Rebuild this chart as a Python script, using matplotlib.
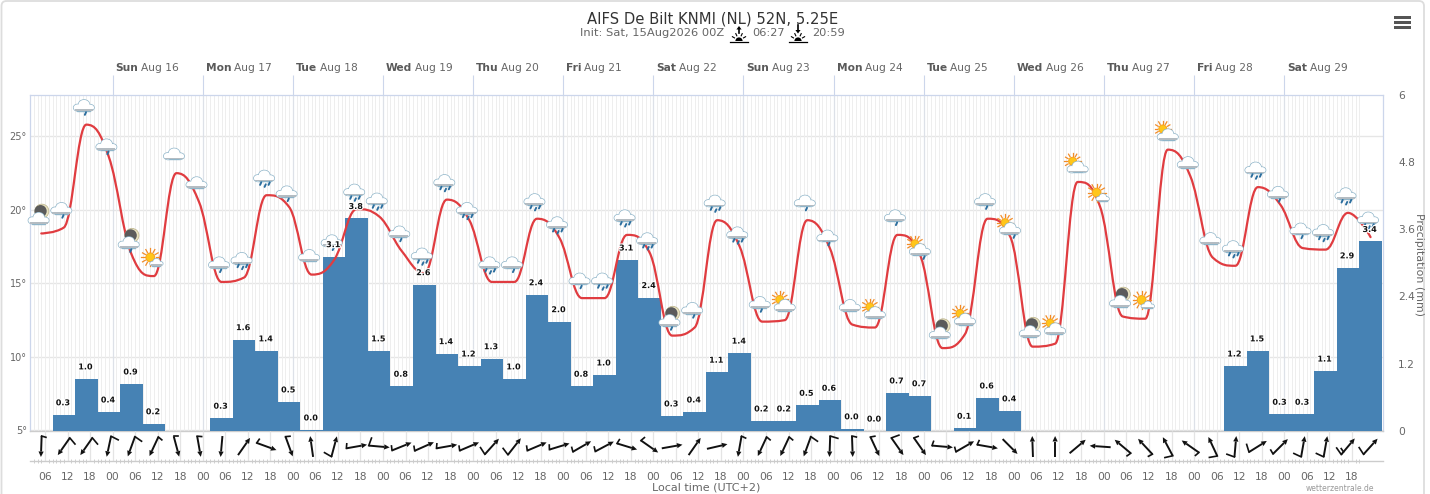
import numpy as np
import matplotlib
matplotlib.use("Agg")
import matplotlib.pyplot as plt
from matplotlib.path import Path
from matplotlib.patches import PathPatch, Ellipse, Circle, Rectangle, Polygon, FancyBboxPatch, Wedge
from matplotlib.lines import Line2D
from matplotlib.transforms import Affine2D
import matplotlib.patheffects as pe

TITLE = "AIFS De Bilt KNMI (NL) 52N, 5.25E"
SUB_INIT = "Init: Sat, 15Aug2026 00Z"
SUNRISE = "06:27"
SUNSET = "20:59"
DAY_NAMES = ["Sun", "Mon", "Tue", "Wed", "Thu", "Fri", "Sat", "Sun", "Mon", "Tue", "Wed", "Thu", "Fri", "Sat"]
DAY_DATES = ["Aug 16", "Aug 17", "Aug 18", "Aug 19", "Aug 20", "Aug 21", "Aug 22", "Aug 23",
             "Aug 24", "Aug 25", "Aug 26", "Aug 27", "Aug 28", "Aug 29"]

# hours after Sat 15 Aug 00:00 local
TEMP_HOURS = [5 + 6 * i for i in range(60)]
TEMP = [18.4, 18.8, 25.8, 23.6, 17.0, 15.5, 22.5, 20.55, 15.1, 15.4,
        21.0, 20.2, 15.6, 16.6, 20.05, 19.55, 17.2, 15.7, 20.7, 19.3,
        15.1, 15.1, 19.4, 18.1, 14.0, 14.0, 18.3, 17.1, 11.45, 12.0,
        19.3, 17.5, 12.4, 12.5, 19.3, 17.4, 12.2, 12.0, 18.3, 16.95,
        10.6, 11.55, 19.4, 18.2, 10.7, 10.9, 21.9, 20.2, 12.75, 12.6,
        24.1, 22.3, 16.75, 16.2, 21.55, 20.35, 17.4, 17.3, 19.8, 18.15]
ICONS = ["moon", "r1", "r1", "r1", "moonr", "sun", "c", "c", "r1", "r2",
         "r2", "r1", "c", "r1", "r2", "r2", "r1", "r2", "r2", "r2",
         "r2", "r1", "r2", "r2", "r1", "r2", "r2", "r2", "moonr", "r1",
         "r2", "r2", "r1", "part", "r1", "r1", "c", "part", "r1", "partr",
         "moon", "part", "r1", "partr", "moon", "part", "part", "sun", "moon", "sun",
         "part", "c", "c", "r2", "r2", "r1", "r1", "r2", "r2", "r2"]

PRECIP_HOURS = [11 + 6 * i for i in range(59)]
PRECIP = [0.29, 0.93, 0.34, 0.84, 0.13, None, None,
          0.23, 1.63, 1.43, 0.52, 0.02, 3.11, 3.79, 1.43, 0.80, 2.61, 1.38, 1.16, 1.29, 0.93,
          2.43, 1.95, 0.80, 1.00, 3.05, 2.38, 0.27, 0.34, 1.05, 1.39, 0.18, 0.18, 0.46, 0.55,
          0.04, 0.00, 0.68, 0.63, None, 0.05, 0.59, 0.36,
          None, None, None, None, None, None, None, None, None,
          1.16, 1.43, 0.30, 0.30, 1.07, 2.91, 3.38]
PRECIP_LABELS = ["0.3", "1.0", "0.4", "0.9", "0.2", "", "",
                 "0.3", "1.6", "1.4", "0.5", "0.0", "3.1", "3.8", "1.5", "0.8", "2.6", "1.4", "1.2", "1.3", "1.0",
                 "2.4", "2.0", "0.8", "1.0", "3.1", "2.4", "0.3", "0.4", "1.1", "1.4", "0.2", "0.2", "0.5", "0.6",
                 "0.0", "0.0", "0.7", "0.7", "", "0.1", "0.6", "0.4",
                 "", "", "", "", "", "", "", "", "",
                 "1.2", "1.5", "0.3", "0.3", "1.1", "2.9", "3.4"]

# direction the arrow points to (compass degrees), barb class at the tail
WIND_DIR = [182, 215, 215, 192, 200, 205, 165, 170, 185, 35,
            110, 160, 352, 15, 80, 95, 68, 66, 80, 67,
            42, 38, 67, 73, 60, 62, 107, 125, 80, 35,
            77, 190, 205, 205, 200, 182, 178, 155, 145, 145,
            95, 60, 100, 135, 358, 0, 50, 274, 310, 317,
            332, 305, 335, 5, 58, 45, 10, 10, 40, 42]
WIND_BARB = [1, 2, 2, 2, 2, 1, 1, 1, 0, 0,
             1, 1, 0, 2, 1, 2, 1, 1, 1, 1,
             2, 2, 1, 1, 1, 1, 1, 1, 0, 0,
             0, 1, 1, 1, 2, 2, 1, 1, 2, 1,
             1, 1, 1, 0, 0, 0, 0, 0, 1, 1,
             2, 1, 2, 2, 2, 1, 2, 2, 3, 2]

W, H = 1430, 494
FONT = "DejaVu Sans"
plt.rcParams["font.family"] = FONT
GRAY = "#666666"
AXC = "#ccd6eb"
# weather symbols on falling stretches sit closer to the line (pixels)
ICON_SHIFT = {3: 7, 4: 3.7, 11: 4, 15: 1.6, 19: 7.3, 23: 4, 27: 5.3, 31: 5.3, 35: 7,
              39: 9.7, 43: 7, 47: 4.3, 51: 5.6, 55: 6.7}

fig = plt.figure(figsize=(W / 100, H / 100), dpi=100, facecolor="white")


def rect(l, t, r, b):
    return [l / W, 1 - b / H, (r - l) / W, (b - t) / H]


L, R, T, B = 29.5, 1383.0, 94.5, 431.0
XLIM = ((L - 22.5) / 3.755, (R - 22.5) / 3.755)
YLIM = (5 - 0.04, 5 + (431 - 94.5) / 14.7 - 0.04)

# ------------- base axes: grid
ax = fig.add_axes(rect(L, T, R, B), zorder=1)
ax.set_xlim(*XLIM)
ax.set_ylim(*YLIM)
ax.vlines(np.arange(3, 357), YLIM[0], YLIM[1], color="#eeeeee", lw=0.7, zorder=1)
ax.vlines(np.arange(24, 350, 24), YLIM[0], YLIM[1], color="#dde1e8", lw=0.9, zorder=1.1)
ax.set_yticks([5, 10, 15, 20, 25])
ax.set_yticklabels(["5°", "10°", "15°", "20°", "25°"], fontsize=7, color=GRAY)
ax.yaxis.grid(True, color="#e6e6e6", lw=1)
ax.set_axisbelow(True)
ax.tick_params(axis="y", length=0, pad=2)
ax.xaxis.tick_top()
ax.set_xticks(np.arange(24, 350, 24))
ax.set_xticklabels([])
ax.tick_params(axis="x", length=14.2, width=0.8, color=AXC, direction="out")
for s in ["left", "top", "right"]:
    ax.spines[s].set_color(AXC)
    ax.spines[s].set_linewidth(0.9)
ax.spines["bottom"].set_color("#cccccc")
ax.spines["bottom"].set_linewidth(1)

# ------------- precipitation axes
ax2 = ax.twinx()
ax2.set_zorder(2)
ax2.patch.set_visible(False)
ax2.set_ylim(0, 6)
ax2.set_yticks([0, 1.2, 2.4, 3.6, 4.8, 6])
ax2.set_yticklabels(["0", "1.2", "2.4", "3.6", "4.8", "6"], fontsize=7.7, color=GRAY)
ax2.tick_params(axis="y", length=0, pad=11)
for s in ax2.spines.values():
    s.set_visible(False)
pvals = np.array([np.nan if v is None else v for v in PRECIP], dtype=float)
ax2.bar(PRECIP_HOURS, pvals, width=6.0, color="#4682b4", lw=0, zorder=2)

# ------------- temperature layer
ax3 = fig.add_axes(rect(L, T, R, B), zorder=3, sharex=ax, sharey=ax)
ax3.patch.set_visible(False)
ax3.axis("off")


def spline_path(xs, ys):
    """Bezier path through the points, with flattened extremes."""
    n = len(xs)
    verts = [(xs[0], ys[0])]
    codes = [Path.MOVETO]
    lc, rc = [None] * n, [None] * n
    rc[0] = (xs[0], ys[0])
    lc[-1] = (xs[-1], ys[-1])
    for i in range(1, n - 1):
        x, y = xs[i], ys[i]
        lx = (1.5 * x + xs[i - 1]) / 2.5
        ly = (1.5 * y + ys[i - 1]) / 2.5
        rx = (1.5 * x + xs[i + 1]) / 2.5
        ry = (1.5 * y + ys[i + 1]) / 2.5
        c = (ry - ly) * (rx - x) / (rx - lx) + y - ry
        ly += c
        ry += c
        if ly > ys[i - 1] and ly > y:
            ly = max(ys[i - 1], y)
            ry = 2 * y - ly
        elif ly < ys[i - 1] and ly < y:
            ly = min(ys[i - 1], y)
            ry = 2 * y - ly
        if ry > ys[i + 1] and ry > y:
            ry = max(ys[i + 1], y)
            ly = 2 * y - ry
        elif ry < ys[i + 1] and ry < y:
            ry = min(ys[i + 1], y)
            ly = 2 * y - ry
        lc[i] = (lx, ly)
        rc[i] = (rx, ry)
    for i in range(1, n):
        verts += [rc[i - 1], lc[i], (xs[i], ys[i])]
        codes += [Path.CURVE4] * 3
    return Path(verts, codes)


ax3.add_patch(PathPatch(spline_path(TEMP_HOURS, TEMP), fc="none", ec="#e03c40", lw=1.6,
                        capstyle="round", joinstyle="round", zorder=3))


def local(X, Y):
    # local pixel coordinates, y pointing down, at display position X, Y
    return Affine2D().scale(1, -1).translate(X, Y)


def add(artist, tr, z):
    artist.set_transform(tr)
    artist.set_clip_on(False)
    artist.set_zorder(z)
    ax3.add_artist(artist)


def cloud(X, Y, s=1.0, z=4):
    tr = Affine2D().scale(s, -s).translate(X, Y)
    shapes = [((-6.2, 2.0), 8.0, 6.5), ((0.2, -1.0), 11.0, 9.5), ((6.4, 2.0), 7.6, 6.0)]
    for c, w, h in shapes:
        add(Ellipse(c, w, h, fc="#a8c6d6", ec="#8fb5c9", lw=1.0), tr, z)
    add(Rectangle((-6.5, 1), 13, 4.2, fc="#a8c6d6", ec="#8fb5c9", lw=1.0), tr, z)
    for c, w, h in shapes:
        add(Ellipse(c, w, h, fc="white", ec="none"), tr, z + 0.01)
    add(Rectangle((-6.5, 0.5), 13, 3.0, fc="white", ec="none"), tr, z + 0.01)
    add(Rectangle((-9, 3.4), 18, 1.7, fc="#b4bcc2", ec="none"), tr, z + 0.02)


def drops(X, Y, pts, z=4.1):
    tr = local(X, Y)
    for dx, dy in pts:
        add(Line2D([dx + 0.7, dx - 0.5], [dy - 1.4, dy + 1.2], color="#2c6e9e", lw=1.4,
                   solid_capstyle="round"), tr, z)


def sun(X, Y, r=4.4, ray=9.0, z=3.9):
    tr = local(X, Y)
    for a in np.arange(0, 360, 30):
        ca, sa = np.cos(np.radians(a)), np.sin(np.radians(a))
        add(Line2D([(r + 1.3) * ca, ray * ca], [(r + 1.3) * sa, ray * sa], color="#f28c28", lw=0.9), tr, z)
    add(Circle((0, 0), r, fc="#ffc61a", ec="#f7a21c", lw=0.7), tr, z + 0.01)


def moon(X, Y, z=3.9):
    tr = local(X, Y)
    add(Circle((0, 0), 7, fc="#e8e2c0", ec="#b9b188", lw=0.5), tr, z)
    add(Circle((-1.3, 0), 6.1, fc="#5b5b5b", ec="none"), tr, z + 0.01)


def draw_icon(h, t, kind, shift):
    X, Y = ax3.transData.transform((h, t))
    Y = Y - shift
    if kind in ("c", "r1", "r2"):
        cx, cy = X - 2.5, Y + 19
        cloud(cx, cy)
        if kind == "r1":
            drops(cx, cy, [(1.5, 8.0)])
        elif kind == "r2":
            drops(cx, cy, [(-3.5, 7.5), (1.0, 9.5), (5.0, 7.5)])
    elif kind in ("moon", "moonr"):
        cx, cy = X - 2.7, Y + 15
        moon(cx + 3.3, cy + 7.3)
        cloud(cx, cy)
        if kind == "moonr":
            drops(cx, cy, [(2.0, 8.0)])
    elif kind == "sun":
        sun(X - 3.6, Y + 18.7)
        cloud(X + 2.5, Y + 13.7, s=0.62)
    elif kind in ("part", "partr"):
        sun(X - 5, Y + 20.7, r=4.0, ray=8.2)
        cloud(X, Y + 14.7)
        if kind == "partr":
            drops(X, Y + 14.7, [(4.0, 8.0)])


for i, (h, t, k) in enumerate(zip(TEMP_HOURS, TEMP, ICONS)):
    draw_icon(h, t, k, ICON_SHIFT.get(i, 0))

# bar value labels
halo = [pe.withStroke(linewidth=1.6, foreground="white")]
for h, v, lab in zip(PRECIP_HOURS, pvals, PRECIP_LABELS):
    if lab:
        ax3.annotate(lab, xy=(h, v), xycoords=ax2.transData, xytext=(-0.7, 8.6), textcoords="offset points",
                     ha="center", va="center", fontsize=5.8, fontweight="bold", color="#111111",
                     path_effects=halo, zorder=6, annotation_clip=False)

# ------------- wind band
axw = fig.add_axes(rect(L, B, R, 461), zorder=1)
axw.set_xlim(*XLIM)
axw.set_ylim(0, 1)
axw.patch.set_visible(False)
ticks6 = np.arange(6, 355, 6)
axw.vlines(ticks6, 0, 1, color="#e4e4e4", lw=0.9)
axw.set_yticks([])
axw.set_xticks(ticks6)
axw.set_xticklabels(["%02d" % (h % 24) for h in ticks6], fontsize=7.7, color=GRAY)
axw.set_xticks(np.arange(3, 357), minor=True)
axw.tick_params(axis="x", which="major", length=0, pad=7.6)
axw.tick_params(axis="x", which="minor", length=2.5, width=0.6, color="#c8c8c8", direction="inout")
for s in ["left", "top", "right"]:
    axw.spines[s].set_visible(False)
axw.spines["bottom"].set_color("#cccccc")
axw.spines["bottom"].set_linewidth(1)

axo = fig.add_axes([0, 0, 1, 1], zorder=5)
axo.set_xlim(0, W)
axo.set_ylim(H, 0)
axo.patch.set_visible(False)
axo.axis("off")

WIND_Y = 446.5
for h, d, b in zip(TEMP_HOURS, WIND_DIR, WIND_BARB):
    xpix = ax.transData.transform((h, 10))[0]
    a = np.radians(d)
    ux, uy = np.sin(a), -np.cos(a)
    tail = (xpix - 10.5 * ux, WIND_Y - 10.5 * uy)
    head = (xpix + 10.5 * ux, WIND_Y + 10.5 * uy)
    neck = (head[0] - 5.5 * ux, head[1] - 5.5 * uy)
    axo.plot([tail[0], neck[0]], [tail[1], neck[1]], color="#111111", lw=1.4, solid_capstyle="butt")
    axo.add_patch(Polygon([head, (neck[0] - 2.6 * uy, neck[1] + 2.6 * ux),
                           (neck[0] + 2.6 * uy, neck[1] - 2.6 * ux)], fc="#111111", ec="none"))
    ba = np.radians(d - 75)
    bx, by = np.sin(ba), -np.cos(ba)
    if b == 1:
        axo.plot([tail[0], tail[0] + 4.5 * bx], [tail[1], tail[1] + 4.5 * by], color="#111111", lw=1.2)
    elif b == 2:
        axo.plot([tail[0], tail[0] + 8.0 * bx], [tail[1], tail[1] + 8.0 * by], color="#111111", lw=1.2)
    elif b == 3:
        axo.plot([tail[0], tail[0] + 8.0 * bx], [tail[1], tail[1] + 8.0 * by], color="#111111", lw=1.2)
        sx, sy = tail[0] + 3.5 * ux, tail[1] + 3.5 * uy
        axo.plot([sx, sx + 4.0 * bx], [sy, sy + 4.0 * by], color="#111111", lw=1.2)

# ------------- card, title, furniture (figure pixel coordinates)
axo.add_patch(FancyBboxPatch((1.5, 1.0), 1422.5, 600, boxstyle="round,pad=0,rounding_size=5",
                             fc="none", ec="#dddddd", lw=1.3, clip_on=True))

axo.text(712.5, 19, TITLE, ha="center", va="center", fontsize=10.6, color="#333333")
axo.text(580, 32.5, SUB_INIT, ha="left", va="center", fontsize=8.25, color=GRAY)
axo.text(752, 32.5, SUNRISE, ha="left", va="center", fontsize=8.2, color=GRAY)
axo.text(812, 32.5, SUNSET, ha="left", va="center", fontsize=8.2, color=GRAY)


def sun_mark(xc, up):
    axo.plot([xc - 9, xc + 9], [42.3, 42.3], color="black", lw=0.9)
    axo.add_patch(Wedge((xc, 41), 3.6, 180, 360, fc="black", ec="none"))
    for a in (-60, -25, 25, 60):
        ca, sa = np.sin(np.radians(a)), -np.cos(np.radians(a))
        axo.plot([xc + 5.2 * ca, xc + 7.6 * ca], [40.5 + 5.2 * sa, 40.5 + 7.6 * sa], color="black", lw=0.8)
    if up:
        axo.plot([xc, xc], [29, 33.5], color="black", lw=1.2)
        axo.add_patch(Polygon([(xc, 26), (xc - 2.6, 29.5), (xc + 2.6, 29.5)], fc="black", ec="none"))
    else:
        axo.plot([xc, xc], [25.5, 30], color="black", lw=1.2)
        axo.add_patch(Polygon([(xc, 33.5), (xc - 2.6, 30), (xc + 2.6, 30)], fc="black", ec="none"))


sun_mark(739, True)
sun_mark(798, False)

# day labels above the ticks
rend = fig.canvas.get_renderer()
for hour, dn, dd in zip(np.arange(24, 350, 24), DAY_NAMES, DAY_DATES):
    xp = ax.transData.transform((hour, 10))[0] + 3
    t1 = axo.text(xp, 68, dn, ha="left", va="center", fontsize=7.7, fontweight="bold", color="#5a5a5a")
    bb = t1.get_window_extent(rend)
    axo.text(bb.x1 + 2.6, 68, dd, ha="left", va="center", fontsize=7.7, color=GRAY)

axo.text(1419.5, 264, "Precipitation (mm)", rotation=270, ha="center", va="center", fontsize=7.9, color=GRAY)
axo.text(706.5, 487.5, "Local time (UTC+2)", ha="center", va="center", fontsize=8.0, color=GRAY)
axo.text(1340, 488.5, "wetterzentrale.de", ha="center", va="center", fontsize=5.5, color="#999999")

for y in (17.3, 22.3, 27.3):
    axo.add_patch(Rectangle((1393.5, y - 1.3), 17, 2.6, fc="#555555", ec="none"))

fig.savefig("out.png", dpi=100, facecolor="white")
